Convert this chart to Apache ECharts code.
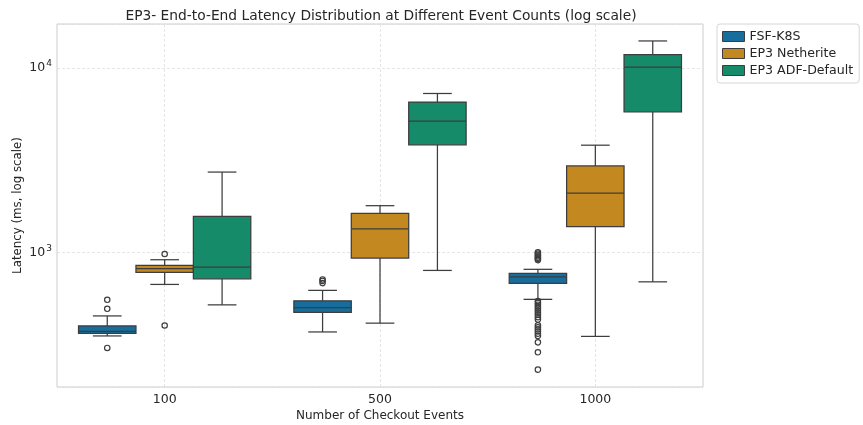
<!DOCTYPE html>
<html>
<head>
<meta charset="utf-8">
<script src="https://cdn.jsdelivr.net/npm/echarts@6/dist/echarts.min.js"></script>
<style>
html,body{margin:0;padding:0;background:#fff;}
#chart{width:863px;height:425px;}
</style>
</head>
<body>
<div id="chart"></div>
<script>
// ---- data ----
const categories = ['100', '500', '1000'];
const seriesNames = ['FSF-K8S', 'EP3 Netherite', 'EP3 ADF-Default'];
const seriesColors = ['#176d9c', '#c38820', '#168b6a'];
// [min(whisker), q1, median, q3, max(whisker)] per category
const fsfBoxes = [
  [352, 364, 373, 399, 452],
  [370, 472, 502, 546, 622],
  [556, 679, 737, 769, 809]
];
const netheriteBoxes = [
  [670, 779, 815, 850, 912],
  [413, 931, 1339, 1629, 1792],
  [350, 1378, 2093, 2944, 3815]
];
const adfBoxes = [
  [519, 719, 832, 1570, 2727],
  [798, 3831, 5152, 6535, 7278],
  [692, 5788, 10126, 11810, 14030]
];
// outliers: [category index, value]
const fsfOutliers = [
  [0, 553], [0, 494], [0, 303],
  [1, 713], [1, 700], [1, 681],
  [2, 1000], [2, 985], [2, 968], [2, 952], [2, 936], [2, 922], [2, 908],
  [2, 545], [2, 532], [2, 520], [2, 507], [2, 495], [2, 482], [2, 470], [2, 458],
  [2, 445], [2, 432], [2, 402], [2, 392], [2, 382], [2, 372], [2, 362], [2, 352],
  [2, 325], [2, 287], [2, 231]
];
const netheriteOutliers = [
  [0, 979], [0, 401]
];
const adfOutliers = [];

const yMin = 186, yMax = 17340;

// ---- rendering ----
const boxSets = [fsfBoxes, netheriteBoxes, adfBoxes];
const outlierSets = [fsfOutliers, netheriteOutliers, adfOutliers];
const lineColor = '#3d3d3d';
const nSeries = 3;

function boxRender(si) {
  return function (params, api) {
    const cat = api.value(0);
    const vMin = api.value(1), q1 = api.value(2), med = api.value(3), q3 = api.value(4), vMax = api.value(5);
    const p0 = api.coord([cat, med]);
    const pNext = api.coord([cat + 1 > 2 ? cat - 1 : cat + 1, med]);
    const band = Math.abs(pNext[0] - p0[0]);
    const w = band * 0.8 / nSeries;
    const cx = p0[0] + (si - (nSeries - 1) / 2) * w;
    const yMinP = api.coord([cat, vMin])[1];
    const yQ1 = api.coord([cat, q1])[1];
    const yMed = p0[1];
    const yQ3 = api.coord([cat, q3])[1];
    const yMaxP = api.coord([cat, vMax])[1];
    const ls = { stroke: lineColor, lineWidth: 1.25 };
    const cap = w * 0.25;
    return {
      type: 'group',
      children: [
        { type: 'line', shape: { x1: cx, y1: yQ1, x2: cx, y2: yMinP }, style: ls },
        { type: 'line', shape: { x1: cx, y1: yQ3, x2: cx, y2: yMaxP }, style: ls },
        { type: 'line', shape: { x1: cx - cap, y1: yMinP, x2: cx + cap, y2: yMinP }, style: ls },
        { type: 'line', shape: { x1: cx - cap, y1: yMaxP, x2: cx + cap, y2: yMaxP }, style: ls },
        { type: 'rect', shape: { x: cx - w / 2, y: yQ3, width: w, height: yQ1 - yQ3 },
          style: { fill: seriesColors[si], stroke: lineColor, lineWidth: 1.25 } },
        { type: 'line', shape: { x1: cx - w / 2, y1: yMed, x2: cx + w / 2, y2: yMed }, style: ls }
      ]
    };
  };
}

function outlierRender(si) {
  return function (params, api) {
    const cat = api.value(0);
    const v = api.value(1);
    const p = api.coord([cat, v]);
    const pNext = api.coord([cat + 1 > 2 ? cat - 1 : cat + 1, v]);
    const band = Math.abs(pNext[0] - p[0]);
    const w = band * 0.8 / nSeries;
    const cx = p[0] + (si - (nSeries - 1) / 2) * w;
    return {
      type: 'circle',
      shape: { cx: cx, cy: p[1], r: 2.7 },
      style: { fill: 'rgba(255,255,255,0)', stroke: lineColor, lineWidth: 1.2 }
    };
  };
}

const series = [];
for (let i = 0; i < nSeries; i++) {
  series.push({
    name: seriesNames[i],
    type: 'custom',
    renderItem: boxRender(i),
    itemStyle: { color: seriesColors[i] },
    encode: { x: 0, y: [1, 2, 3, 4, 5] },
    data: boxSets[i].map((b, ci) => [ci].concat(b)),
    z: 3
  });
}
for (let i = 0; i < nSeries; i++) {
  series.push({
    name: seriesNames[i] + ' outliers',
    type: 'custom',
    renderItem: outlierRender(i),
    itemStyle: { color: lineColor },
    encode: { x: 0, y: 1 },
    data: outlierSets[i],
    z: 4
  });
}

const font = 'DejaVu Sans';
const textColor = '#262626';
const chart = echarts.init(document.getElementById('chart'), null, { renderer: 'canvas' });
chart.setOption({
  animation: false,
  backgroundColor: '#ffffff',
  textStyle: { fontFamily: font },
  title: {
    text: 'EP3- End-to-End Latency Distribution at Different Event Counts (log scale)',
    left: 376, top: 4, textAlign: 'center',
    textStyle: { fontFamily: font, fontSize: 13.8, fontWeight: 'normal', color: textColor }
  },
  legend: {
    data: seriesNames.map((n, i) => ({ name: n, icon: 'rect', itemStyle: { color: seriesColors[i], borderColor: lineColor, borderWidth: 1 } })),
    orient: 'vertical',
    left: 717, top: 24,
    itemWidth: 22, itemHeight: 10, itemGap: 2,
    padding: [5, 6, 5, 5],
    borderColor: '#d6d6d6', borderWidth: 1, borderRadius: 3,
    backgroundColor: '#fff',
    textStyle: { fontFamily: font, fontSize: 12.6, color: textColor, lineHeight: 15 }
  },
  grid: {
    left: 57, right: 160, top: 24, bottom: 38,
    outerBoundsMode: 'none', containLabel: false,
    show: true, borderColor: '#cccccc', borderWidth: 1
  },
  xAxis: {
    type: 'category',
    data: categories,
    boundaryGap: true,
    name: 'Number of Checkout Events',
    nameLocation: 'middle', nameGap: 23, nameMoveOverlap: false,
    nameTextStyle: { fontFamily: font, fontSize: 12, color: textColor },
    axisLine: { show: false },
    axisTick: { show: false, alignWithLabel: true },
    axisLabel: { fontFamily: font, fontSize: 12.5, color: textColor, margin: 6 },
    splitLine: { show: true, alignWithLabel: true, lineStyle: { color: '#dedede', type: [3, 2], width: 0.8 } }
  },
  yAxis: {
    type: 'log', logBase: 10,
    min: yMin, max: yMax,
    name: 'Latency (ms, log scale)',
    nameLocation: 'middle', nameGap: 33, nameMoveOverlap: false,
    nameTextStyle: { fontFamily: font, fontSize: 11.8, color: textColor },
    axisLine: { show: false },
    axisTick: { show: false },
    axisLabel: {
      fontFamily: font, fontSize: 12.5, color: textColor, margin: 5,
      formatter: function (v) {
        const e = Math.log10(v);
        if (Math.abs(e - Math.round(e)) > 1e-6) return '';
        return '{b|10}{s|' + Math.round(e) + '}';
      },
      rich: {
        b: { fontFamily: font, fontSize: 12.5, color: textColor },
        s: { fontFamily: font, fontSize: 9, color: textColor, padding: [0, 0, 8, 1] }
      }
    },
    splitLine: { show: true, lineStyle: { color: '#dedede', type: [3, 2], width: 0.8 } }
  },
  series: series
});
</script>
</body>
</html>
